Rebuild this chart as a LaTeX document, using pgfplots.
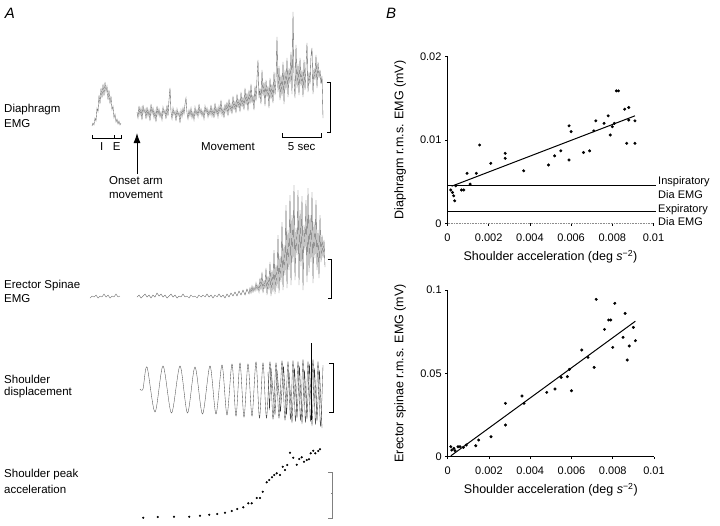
\documentclass[border=0pt]{standalone}
\usepackage{pgfplots}
\pgfplotsset{compat=1.18}
\usepackage{fontspec}
\setmainfont{Liberation Sans}
\usetikzlibrary{arrows.meta}

\pgfplotsset{bstyle/.style={scale only axis, axis lines=left, axis line style={-, line width=0.6pt},
  tick align=outside, major tick length=2.5pt, tick style={black, line width=0.5pt},
  xmin=0, xmax=0.01, xtick={0,0.002,0.004,0.006,0.008,0.01},
  xticklabels={0,0.002,0.004,0.006,0.008,0.01},
  ticklabel style={font=\fontsize{11}{12}\selectfont},
  xticklabel style={yshift=-4pt},
  label style={font=\fontsize{12.5}{14}\selectfont},
  xlabel={Shoulder acceleration (deg \textit{s}\textsuperscript{−2})},
  xlabel style={at={(axis description cs:0.5,-0.2)}, anchor=center},
  ylabel style={at={(axis description cs:-0.23,0.5)}, anchor=center},
  clip=false, scaled ticks=false}}

\begin{document}
\begin{tikzpicture}
\useasboundingbox (0,0) rectangle (720pt,525pt);
% ---------------- Panel A (pixel coordinates) ----------------
\begin{axis}[at={(0pt,0pt)}, anchor=south west, width=720pt, height=525pt, scale only axis,
  xmin=0, xmax=720, ymin=0, ymax=525, y dir=reverse, hide axis, clip=false]
\pgfplotsset{every axis plot/.append style={line width=0.35pt}}
% Diaphragm breath
\addplot[black!60, no marks] coordinates {(92,126)(93,123)(94,125)(95,118)(96,121)(97,108)(98,112)(99,95)(100,104)(101,88)(102,98)(103,84)(104,96)(105,82)(106,92)(107,86)(108,100)(109,90)(110,104)(111,96)(112,110)(113,106)(114,118)(115,114)(116,122)(117,119)(118,124)(119,121)(120,125)(121,123)};
% Diaphragm main
\addplot[black!65, no marks] coordinates {(137,112)(138,118)(139,106)(140,115)(141,108)(142,120)(143,105)(144,113)(145,109)(146,119)(147,107)(148,116)(149,110)(150,121)(151,104)(152,114)(153,108)(154,118)(155,111)(156,122)(157,106)(158,115)(159,109)(160,117)(161,112)(162,120)(163,107)(164,114)(165,110)(166,119)(167,105)(168,116)(169,100)(170,88)(171,112)(172,119)(173,108)(174,115)(175,111)(176,121)(177,109)(178,116)(179,112)(180,123)(181,110)(182,117)(183,108)(184,114)(185,104)(186,98)(187,113)(188,119)(189,110)(190,116)(191,108)(192,118)(193,112)(194,120)(195,107)(196,115)(197,110)(198,117)(199,104)(200,114)(201,109)(202,116)(203,111)(204,119)(205,106)(206,113)(207,108)(208,117)(209,110)(210,115)(211,105)(212,116)(213,109)(214,118)(215,103)(216,114)(217,108)(218,117)(219,106)(220,113)(221,100)(222,115)(223,108)(224,118)(225,104)(226,112)(227,102)(228,116)(229,99)(230,111)(231,104)(232,114)(233,96)(234,110)(235,101)(236,113)(237,94)(238,108)(239,99)(240,112)(241,92)(242,107)(243,97)(244,110)(245,88)(246,105)(247,93)(248,111)(249,90)(250,104)(251,84)(252,103)(253,95)(254,110)(255,86)(256,101)(257,78)(258,60)(259,98)(260,88)(261,104)(262,70)(263,96)(264,82)(265,106)(266,80)(267,97)(268,86)(269,108)(270,78)(271,99)(272,84)(273,103)(274,72)(275,95)(276,80)(277,37)(278,92)(279,66)(280,100)(281,75)(282,96)(283,62)(284,104)(285,70)(286,90)(287,58)(288,97)(289,68)(290,84)(291,52)(292,94)(293,12)(294,78)(295,98)(296,45)(297,88)(298,64)(299,95)(300,58)(301,86)(302,70)(303,97)(304,60)(305,90)(306,66)(307,43)(308,92)(309,72)(310,84)(311,56)(312,48)(313,94)(314,68)(315,80)(316,55)(317,88)(318,62)(319,78)(320,70)(321,84)(322,76)(323,118)};
% Erector spinae
\addplot[black!60, no marks] coordinates {(90,298)(92,296)(94,297)(96,295)(98,298)(100,296)(102,297)(104,294)(106,297)(108,295)(110,298)(112,296)(114,297)(116,294)(118,297)(120,296)};
\addplot[black!65, no marks] coordinates {(137,297)(139,295)(141,298)(143,296)(145,294)(147,297)(149,295)(151,298)(153,295)(155,297)(157,293)(159,296)(161,294)(163,297)(165,295)(167,298)(169,296)(171,294)(173,297)(175,295)(177,298)(179,296)(181,297)(183,294)(185,297)(187,296)(189,298)(191,295)(193,297)(195,296)(197,298)(199,295)(201,297)(203,295)(205,297)(207,294)(209,297)(211,295)(213,298)(215,295)(217,297)(219,294)(221,297)(223,295)(225,298)(227,294)(229,297)(231,293)(233,296)(235,292)(237,296)(239,291)(241,295)(243,290)(245,295)(247,289)(249,294)(250,288)(251,293)(252,286)(253,292)(254,287)(255,291)(256,283)(257,290)(258,285)(259,292)(260,278)(261,290)(262,272)(263,293)(264,280)(265,289)(266,268)(267,295)(268,276)(269,290)(270,262)(271,296)(272,270)(273,292)(274,250)(275,294)(276,265)(277,288)(278,235)(279,293)(280,256)(281,282)(282,222)(283,290)(284,245)(285,275)(286,205)(287,288)(288,230)(289,270)(290,195)(291,285)(292,215)(293,262)(294,185)(295,280)(296,228)(297,255)(298,190)(299,285)(300,210)(301,266)(302,196)(303,290)(304,225)(305,250)(306,200)(307,282)(308,188)(309,272)(310,215)(311,262)(312,192)(313,283)(314,222)(315,258)(316,200)(317,270)(318,230)(319,278)(320,215)(321,262)(322,235)(323,258)(324,240)(325,267)};
% Shoulder displacement
\addplot[black!70, no marks, smooth] coordinates {(140,389)(143,389)(147,367)(155,412)(163,366)(171.5,413)(180,366)(187.5,413)(195,367)(202.5,414)(210,366)(216,414)(222,365)(227,415)(232,364)(236,416)(240,363)(244,417)(248,364)(252,416)(256,362)(259.5,418)(263,363)(266.5,418)(270,362)(273,419)(276,363)(279,418)(282,361)(285,420)(288,362)(290.5,419)(293,361)(295.5,421)(298,362)(300.5,420)(303,360)(305.5,422)(308,362)(310.5,421)(313,360)(315.5,424)(318,362)(320.5,426)(323,365)};
\addplot[black!80, no marks] coordinates {(268,372)(269.5,410)(271,368)(275,415)(277,370)(280.5,412)(283.5,366)(286.5,415)(289,372)(292,423)(294.5,368)(297,418)(299.5,366)(302,424)(304.5,370)(307,419)(309.5,364)(312,426)(314.5,368)(317,421)(319.5,370)(322,428)};
\addplot[black, no marks] coordinates {(311.5,343)(311.5,420)};
% Shoulder peak acceleration
\addplot[black, only marks, mark=*, mark size=0.9pt] coordinates {(143.3,517.7)(157.7,517)(174,516.7)(189.3,516.7)(200,515.7)(209.3,514.7)(217.3,514)(225,512.7)(231.7,511)(237.3,509)(243.3,507.3)(248.3,503.3)(251.7,503.3)(256.7,498)(260,498)(262.7,491.7)(266.7,482.3)(269.3,480)(272,477.3)(274.3,475)(276.7,473.3)(280,475)(282.7,466.7)(285,470)(287.3,465)(290,452.7)(293.3,457.7)(296.7,464.7)(299.3,459)(301.7,457.3)(304,461.7)(306.7,460)(309,459.3)(310.7,453.3)(313.3,450.7)(315.3,453.3)(318.3,451)(320,449.3)};
% scale brackets
\draw[black, line width=0.7pt] (326.7,82) -- (330.7,82) -- (330.7,132.7) -- (326.7,132.7);
\draw[black, line width=0.7pt] (327.7,259.3) -- (331.7,259.3) -- (331.7,298.3) -- (327.7,298.3);
\draw[black, line width=0.7pt] (329.3,363.3) -- (333.3,363.3) -- (333.3,412.7) -- (329.3,412.7);
\draw[black!50, line width=0.7pt] (328.3,472.7) -- (332.3,472.7) -- (332.3,518.3) -- (328.3,518.3);
\draw[black!50, line width=0.5pt] (330.8,493) -- (332.3,493);
% I/E bar and 5 sec bar
\draw[black, line width=0.6pt] (92.3,135) -- (92.3,138.3) -- (121,138.3) -- (121,135);
\draw[black, line width=0.6pt] (114.3,138.3) -- (114.3,135);
\draw[black, line width=0.6pt] (282.7,133.3) -- (282.7,137.3) -- (321.7,137.3) -- (321.7,133.3);
% arrow
\draw[black, line width=0.9pt, -{Latex[length=10pt,width=7pt]}] (137,174) -- (137,133);
% texts
\begin{scope}[every node/.style={font=\fontsize{11.5}{13}\selectfont, inner sep=0pt}]
\node[anchor=west] at (axis cs:4,110) {Diaphragm};
\node[anchor=west] at (axis cs:4,123.5) {EMG};
\node[anchor=west] at (axis cs:4,286) {Erector Spinae};
\node[anchor=west] at (axis cs:4,299) {EMG};
\node[anchor=west] at (axis cs:4,379) {Shoulder};
\node[anchor=west] at (axis cs:4,392.5) {displacement};
\node[anchor=west] at (axis cs:4,475) {Shoulder peak};
\node[anchor=west] at (axis cs:4,489) {acceleration};
\node at (axis cs:101.7,146.7) {I};
\node at (axis cs:116.7,146.7) {E};
\node at (axis cs:228,146.7) {Movement};
\node at (axis cs:301.7,146.7) {5 sec};
\node[anchor=north, align=left, font=\fontsize{11.5}{14}\selectfont] at (axis cs:136,176) {Onset arm\\movement};
\end{scope}
\node[font=\fontsize{15}{17}\selectfont\itshape, anchor=center, inner sep=0pt] at (axis cs:10,13) {A};
\node[font=\fontsize{15}{17}\selectfont\itshape, anchor=center, inner sep=0pt] at (axis cs:391,13) {B};
\end{axis}
% ---------------- Panel B top ----------------
\begin{axis}[bstyle, at={(447.5pt,301.7pt)}, anchor=south west, width=206pt, height=166.6pt,
  ymin=0, ymax=0.02, ytick={0,0.01,0.02}, yticklabels={0,0.01,0.02},
  x axis line style={black!45, densely dotted, line width=0.6pt},
  ylabel={Diaphragm r.m.s. EMG (mV)}]
\addplot[black, line width=0.6pt, no marks] coordinates {(0,0.0046)(0.0101,0.0046)};
\addplot[black, line width=0.6pt, no marks] coordinates {(0,0.0015)(0.0101,0.0015)};
\addplot[black, line width=1pt, no marks] coordinates {(0.0002,0.00445)(0.0091,0.0129)};
\addplot[black, only marks, mark=*, mark size=1.3pt] coordinates {
(0.00016,0.0040)(0.00024,0.0037)(0.0003,0.0033)(0.00035,0.0027)(0.0004,0.0045)(0.00068,0.0040)(0.00079,0.0040)(0.00095,0.0060)(0.0011,0.0047)(0.0014,0.0060)(0.00156,0.0094)(0.0021,0.0072)(0.0028,0.0084)(0.0028,0.0078)(0.0037,0.0063)(0.0049,0.0070)(0.0052,0.0081)(0.0055,0.0087)(0.0059,0.0076)(0.0059,0.0117)(0.006,0.0110)(0.0066,0.0085)(0.0069,0.0087)(0.0071,0.0111)(0.0072,0.0123)(0.0076,0.0120)(0.0078,0.0129)(0.0079,0.0106)(0.008,0.0116)(0.0081,0.0120)(0.0082,0.0159)(0.0083,0.0159)(0.0086,0.0137)(0.0088,0.0139)(0.0087,0.0096)(0.0088,0.0124)(0.0091,0.0096)(0.0091,0.0123)};
\begin{scope}[every node/.style={font=\fontsize{11}{13}\selectfont, inner sep=0pt, anchor=west}]
\node at (axis cs:0.01022,0.0050) {Inspiratory};
\node at (axis cs:0.01022,0.00348) {Dia EMG};
\node at (axis cs:0.01022,0.00168) {Expiratory};
\node at (axis cs:0.01022,0.0002) {Dia EMG};
\end{scope}
\end{axis}
% ---------------- Panel B bottom ----------------
\begin{axis}[bstyle, at={(447.7pt,68.3pt)}, anchor=south west, width=206.3pt, height=166.7pt,
  ymin=0, ymax=0.1, ytick={0,0.05,0.1}, yticklabels={0,0.05,0.1},
  ylabel={Erector spinae r.m.s. EMG (mV)}]
\addplot[black, line width=1pt, no marks] coordinates {(0.00015,0.0005)(0.0091,0.0813)};
\addplot[black, only marks, mark=*, mark size=1.3pt] coordinates {
(0.00015,0.006)(0.0002,0.004)(0.0003,0.005)(0.00035,0.0036)(0.0005,0.006)(0.0006,0.006)(0.00076,0.0056)(0.0009,0.007)(0.00136,0.0066)(0.0015,0.010)(0.0021,0.012)(0.0028,0.032)(0.0028,0.019)(0.0036,0.0364)(0.0037,0.032)(0.0048,0.0386)(0.0052,0.0406)(0.0055,0.0476)(0.0058,0.048)(0.006,0.0396)(0.0059,0.0524)(0.0065,0.064)(0.0068,0.0596)(0.0071,0.0536)(0.0072,0.0944)(0.0076,0.0764)(0.0078,0.082)(0.0079,0.082)(0.008,0.0656)(0.0081,0.092)(0.0085,0.0716)(0.0086,0.086)(0.0087,0.058)(0.0088,0.0664)(0.009,0.0776)(0.0091,0.0696)};
\end{axis}
\end{tikzpicture}
\end{document}
